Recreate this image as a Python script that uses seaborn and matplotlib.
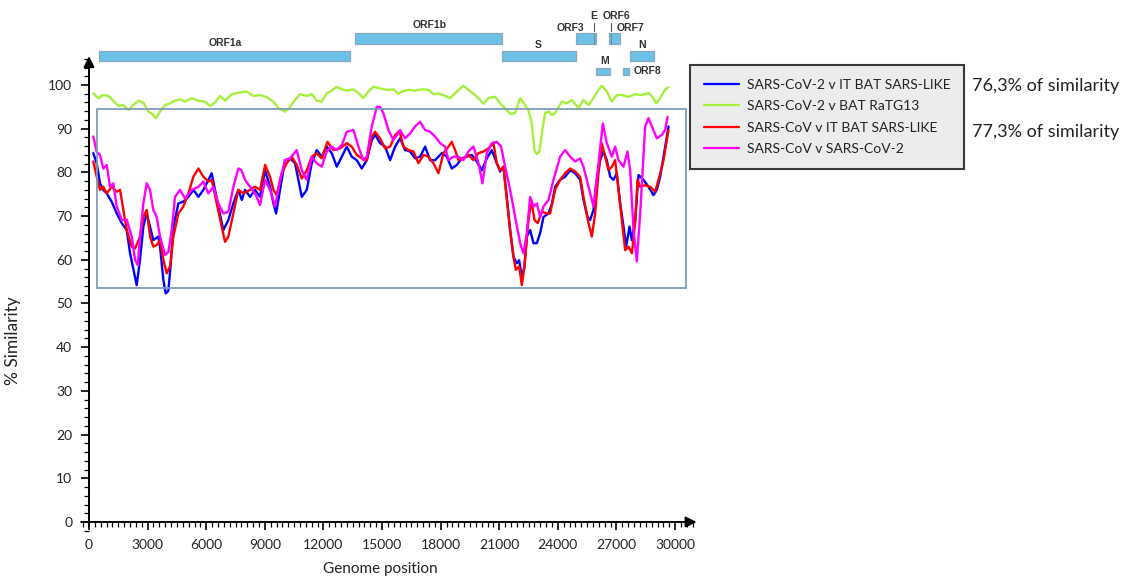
import matplotlib
matplotlib.use("Agg")
import matplotlib.pyplot as plt
from matplotlib.patches import Rectangle
from matplotlib.ticker import MultipleLocator
import seaborn as sns
import pandas as pd

# SimPlot-style similarity curves (genome position -> % similarity)
pos_blue = [220, 393, 563, 732, 906, 1160, 1418, 1674, 1930, 2100, 2355, 2440, 2611, 2780, 2954, 3123, 3292, 3550,
            3635, 3806, 3926, 4062, 4200, 4318, 4574, 4830, 5086, 5342, 5600, 5852, 6108, 6280, 6451, 6620, 6876,
            7132, 7388, 7645, 7820, 7987, 8243, 8499, 8755, 9011, 9267, 9438, 9575, 9780, 10035, 10291, 10547,
            10718, 10889, 11145, 11401, 11657, 11913, 12170, 12426, 12682, 12938, 13194, 13449, 13705, 13961,
            14217, 14473, 14645, 14899, 15156, 15412, 15668, 15923, 16179, 16435, 16691, 16947, 17203, 17459,
            17715, 18057, 18313, 18569, 18825, 19081, 19337, 19593, 19849, 20105, 20361, 20617, 20873, 21044,
            21214, 21385, 21556, 21726, 21897, 22017, 22153, 22290, 22409, 22580, 22751, 22922, 23092, 23263,
            23519, 23700, 23859, 24115, 24371, 24627, 24883, 25139, 25310, 25515, 25651, 25822, 25993, 26164,
            26334, 26505, 26676, 26846, 27017, 27188, 27359, 27495, 27666, 27785, 27956, 28127, 28383, 28639,
            28895, 29065, 29236, 29492, 29663]
sim_blue = [84.4, 82.1, 77.5, 76.0, 75.2, 73.3, 70.6, 68.4, 66.8, 61.5, 56.1, 54.2, 60.0, 67.6, 70.6, 67.6, 64.5, 65.3,
            63.0, 55.4, 52.3, 52.9, 60.0, 67.6, 72.9, 73.3, 74.4, 76.0, 74.4, 76.0, 78.3, 79.8, 76.0, 72.2, 66.8,
            69.1, 72.9, 76.0, 73.7, 76.0, 74.4, 76.0, 74.4, 80.5, 76.7, 72.9, 70.6, 76.0, 82.8, 83.2, 82.1,
            78.3, 74.4, 76.0, 82.1, 85.1, 83.6, 85.9, 84.4, 81.3, 83.6, 85.9, 83.6, 82.8, 80.9,
            82.8, 87.4, 88.6, 86.7, 85.9, 82.8, 85.9, 87.8, 85.1, 84.8, 83.2, 83.6, 85.9, 82.8,
            82.8, 84.4, 83.6, 80.9, 81.7, 83.2, 83.6, 84.0, 82.5, 80.5, 83.2, 85.1, 82.1, 80.2,
            81.3, 74.4, 66.8, 60.7, 59.2, 59.9, 56.1, 58.5, 65.3, 66.8, 63.8, 63.8, 66.1, 69.8,
            70.6, 72.9, 76.7, 78.3, 79.0, 80.5, 79.8, 78.3, 73.7, 69.8, 69.1, 71.4, 78.3, 82.8,
            84.8, 82.8, 79.0, 78.3, 79.8, 72.9, 67.6, 63.0, 67.6, 64.5, 69.1, 79.4, 78.3, 76.7,
            74.8, 76.0, 79.0, 85.9, 90.5]

pos_green = [220, 476, 732, 990, 1244, 1500, 1756, 2012, 2268, 2524, 2780, 3036, 3210, 3415, 3635, 3891, 4147, 4403,
             4659, 4915, 5258, 5600, 5939, 6195, 6451, 6707, 6963, 7306, 7645, 8074, 8413, 8755, 9098, 9436, 9692,
             10035, 10291, 10547, 10803, 11146, 11402, 11658, 11914, 12170, 12426, 12682, 12938, 13194, 13532,
             13788, 14044, 14300, 14556, 14899, 15242, 15580, 15836, 16010, 16348, 16691, 17034, 17372, 17628,
             17884, 18227, 18483, 18739, 18995, 19166, 19420, 19763, 20019, 20188, 20444, 20787, 21043, 21299,
             21555, 21811, 22067, 22323, 22493, 22666, 22800, 22922, 23055, 23178, 23347, 23552, 23690, 23859,
             24202, 24458, 24714, 25052, 25308, 25564, 25820, 26076, 26250, 26506, 26762, 27018, 27274, 27612,
             27955, 28298, 28636, 28892, 29030, 29235, 29491, 29662]
sim_green = [98.1, 97.0, 97.7, 97.5, 96.4, 95.2, 95.4, 94.3, 95.4, 96.4, 96.0, 93.9, 93.5, 92.4, 93.9, 95.4, 95.8, 96.4,
             96.7, 96.2, 97.0, 96.4, 96.2, 95.2, 96.0, 97.5, 96.4, 97.9, 98.2, 98.5, 97.5, 97.7, 97.2, 96.2, 94.7,
             93.9, 95.0, 96.6, 97.9, 97.5, 97.9, 96.4, 96.2, 98.1, 98.7, 99.6, 99.0, 98.7, 99.0,
             98.2, 97.0, 98.5, 99.6, 99.2, 98.9, 99.0, 98.0, 98.5, 98.9, 98.7, 99.0, 98.9, 97.9,
             98.1, 97.5, 97.0, 98.1, 99.2, 99.8, 98.9, 97.7, 96.6, 95.7, 97.0, 97.3, 95.8, 94.7,
             93.4, 93.6, 97.0, 95.4, 94.3, 91.2, 85.1, 84.2, 84.8, 89.0, 93.6, 93.9, 93.1, 93.6,
             96.2, 95.8, 96.6, 94.7, 96.6, 95.4, 97.0, 98.9, 99.8, 98.5, 96.2, 97.7, 97.7, 97.3,
             97.9, 97.7, 98.2, 97.0, 95.8, 97.0, 99.0, 99.5]

pos_red = [220, 393, 563, 732, 906, 1160, 1418, 1588, 1760, 1930, 2186, 2355, 2611, 2780, 2954, 3123, 3292, 3466,
           3635, 3806, 3976, 4147, 4318, 4574, 4830, 5086, 5342, 5600, 5852, 6108, 6280, 6535, 6790, 6963, 7132,
           7388, 7645, 7900, 8243, 8499, 8755, 9011, 9267, 9438, 9609, 9865, 10121, 10377, 10633, 10889, 11145,
           11401, 11657, 11913, 12204, 12511, 12852, 13194, 13449, 13705, 13961, 14217, 14473, 14645, 14899,
           15156, 15412, 15668, 15890, 16094, 16350, 16606, 16862, 17118, 17374, 17630, 17886, 18142, 18398,
           18569, 18740, 18910, 19166, 19423, 19679, 19935, 20191, 20447, 20703, 20873, 21044, 21214, 21385,
           21556, 21726, 21846, 22017, 22153, 22290, 22460, 22631, 22802, 22973, 23178, 23434, 23603, 23859,
           24115, 24371, 24627, 24883, 25139, 25310, 25566, 25737, 25907, 26078, 26249, 26420, 26590, 26761,
           26932, 27102, 27273, 27444, 27615, 27785, 27956, 28075, 28212, 28468, 28724, 28980, 29151, 29407, 29663]
sim_red = [82.5, 79.0, 76.0, 76.7, 75.2, 76.7, 75.6, 76.0, 71.4, 66.8, 63.0, 62.6, 65.3, 69.8, 71.4, 65.3, 63.0, 63.4,
           64.5, 60.0, 56.9, 58.5, 65.3, 70.6, 72.2, 75.2, 79.0, 80.9, 79.0, 77.9, 78.3, 72.9, 67.6, 64.1, 65.3,
           70.6, 76.0, 75.2, 76.0, 76.7, 76.0, 81.7, 79.0, 76.0, 74.8, 79.8, 82.1, 83.6, 81.7, 78.6, 80.5,
           83.6, 84.4, 83.2, 87.0, 85.1, 85.5, 86.7, 85.9, 84.0, 83.2, 82.8, 88.2, 89.3, 87.8,
           85.5, 85.9, 88.5, 89.5, 85.9, 85.1, 84.8, 82.1, 84.0, 83.6, 82.1, 79.8, 84.4, 85.9,
           87.0, 85.1, 82.8, 83.2, 84.0, 82.8, 84.4, 84.8, 85.5, 86.7, 82.1, 80.5, 81.3, 73.7,
           66.8, 60.7, 57.7, 58.5, 54.2, 58.5, 67.6, 73.7, 69.1, 68.4, 71.0, 70.6, 70.6, 76.0,
           78.3, 79.8, 80.9, 80.2, 79.0, 74.4, 68.4, 65.3, 70.6, 79.8, 86.7, 83.6, 80.5, 81.3,
           82.8, 76.0, 69.1, 62.2, 63.0, 61.5, 68.4, 78.3, 76.7, 77.1, 76.7, 75.6, 78.3, 82.8, 89.7]

pos_magenta = [220, 393, 563, 732, 906, 1075, 1244, 1418, 1674, 1930, 2186, 2355, 2493, 2611, 2780, 2954, 3123, 3292,
               3466, 3635, 3891, 4062, 4234, 4403, 4659, 4915, 5258, 5600, 5852, 6108, 6364, 6620, 6876, 7132, 7388,
               7645, 7800, 7987, 8243, 8499, 8755, 9011, 9267, 9523, 9780, 10035, 10291, 10633, 10889, 11145, 11401,
               11657, 11913, 12170, 12426, 12682, 12938, 13194, 13534, 13790, 14046, 14217, 14473, 14730, 14899,
               15070, 15326, 15582, 15800, 15923, 16179, 16435, 16691, 16947, 17203, 17459, 17715, 17971, 18227,
               18398, 18654, 18910, 19166, 19423, 19679, 19935, 20139, 20361, 20617, 20873, 21095, 21300, 21556,
               21812, 22068, 22238, 22409, 22580, 22751, 22922, 23092, 23263, 23519, 23775, 24115, 24371, 24627,
               24883, 25139, 25310, 25566, 25822, 26078, 26300, 26505, 26761, 26932, 27102, 27359, 27563, 27700,
               27871, 28041, 28212, 28468, 28639, 28810, 29065, 29321, 29492, 29612]
sim_magenta = [88.2, 84.7, 84.0, 80.9, 81.7, 76.7, 77.5, 72.2, 69.1, 69.2, 65.3, 60.0, 58.8, 65.3, 72.9, 77.5, 76.0, 71.4,
               69.8, 65.3, 61.1, 61.8, 66.8, 74.4, 76.0, 74.0, 76.0, 76.7, 77.9, 75.2, 76.7, 72.9, 70.6, 71.0, 76.7,
               80.9, 80.5, 78.3, 76.7, 75.2, 72.5, 78.3, 76.0, 72.2, 78.3, 82.8, 83.2, 85.1, 80.5, 78.3, 83.6,
               82.1, 81.3, 84.8, 85.9, 85.1, 86.3, 89.3, 89.7, 85.9, 82.8, 83.6, 90.5, 95.0, 95.0,
               93.5, 89.7, 87.4, 88.8, 89.7, 87.8, 88.9, 90.5, 91.6, 89.7, 89.3, 88.2, 86.7, 85.9,
               82.8, 83.6, 83.6, 82.8, 84.8, 85.9, 82.1, 77.5, 84.4, 86.7, 87.0, 85.9, 81.3, 76.0,
               69.8, 63.8, 61.5, 66.1, 74.4, 72.2, 72.9, 69.8, 72.2, 73.7, 78.3, 83.6, 85.1, 83.6,
               82.5, 83.2, 81.3, 76.7, 72.2, 82.1, 91.2, 86.7, 83.6, 85.9, 82.8, 81.3, 84.8, 80.5,
               66.8, 59.6, 70.6, 90.5, 92.4, 90.5, 87.8, 88.6, 89.7, 92.7]

series_labels = ["SARS-CoV-2 v IT BAT SARS-LIKE", "SARS-CoV-2 v BAT RaTG13",
                 "SARS-CoV v IT BAT SARS-LIKE", "SARS-CoV v SARS-CoV-2"]
series_colors = ["#0000ff", "#a4f03c", "#ff0000", "#ff00ff"]
similarity_notes = ["76,3% of similarity", "77,3% of similarity"]

# genome map (start, end, row)
orf_names = ["ORF1a", "ORF1b", "S", "ORF3", "M", "ORF6/7", "ORF8", "N"]
orf_start = [512, 13620, 21147, 24936, 25960, 26625, 27342, 27700]
orf_end = [13364, 21147, 24936, 25960, 26677, 27188, 27650, 28930]
orf_row = [1, 2, 1, 2, 0, 2, 0, 1]

sns.set_style("white")
plt.rcParams["font.family"] = ["Lato", "DejaVu Sans"]

fig = plt.figure(figsize=(11.21, 5.77), dpi=100)
ax = fig.add_axes([0.0707, 0.0802, 0.5507, 0.8255])

data_sets = [(pos_blue, sim_blue), (pos_green, sim_green), (pos_red, sim_red), (pos_magenta, sim_magenta)]
for (xs, ys), lab, col in zip(data_sets, series_labels, series_colors):
    df = pd.DataFrame({"pos": xs, "sim": ys})
    sns.lineplot(data=df, x="pos", y="sim", color=col, lw=1.7, label=lab, ax=ax)

handles, labels = ax.get_legend_handles_labels()
ax.get_legend().remove()

for s in ["top", "right", "left", "bottom"]:
    ax.spines[s].set_visible(False)
ax.spines["left"].set_position(("data", 0))
ax.spines["bottom"].set_position(("data", 0))

# axes drawn as arrows
ax.annotate("", xy=(0, 106.6), xytext=(0, -1), annotation_clip=False,
            arrowprops=dict(arrowstyle="-|>", color="black", lw=1.4, mutation_scale=16, shrinkA=0, shrinkB=0))
ax.annotate("", xy=(31100, 0), xytext=(-400, 0), annotation_clip=False,
            arrowprops=dict(arrowstyle="-|>", color="black", lw=1.4, mutation_scale=16, shrinkA=0, shrinkB=0))

ax.set_yticks(range(0, 101, 10))
ax.yaxis.set_minor_locator(MultipleLocator(2))
ax.set_xticks(range(0, 30001, 3000))
ax.xaxis.set_minor_locator(MultipleLocator(300))
ax.tick_params(axis="both", which="major", direction="out", length=6, width=1.2, labelsize=10,
               colors="black", labelcolor="#222222", pad=6)
ax.tick_params(axis="both", which="minor", direction="out", length=3.5, width=0.9, colors="black")
ax.tick_params(left=True, bottom=True, which="both")
ax.set_xlim(-500, 31100)
ax.set_ylim(-2, 107)

ax.set_xlabel("Genome position", fontsize=11, color="#222222")
ax.set_ylabel("% Similarity", fontsize=12.5, color="#222222")
ax.xaxis.set_label_coords(0.487, -0.065)
ax.yaxis.set_label_coords(-0.094, 0.40)

# highlighted region
ax.add_patch(Rectangle((410, 53.6), 30570 - 410, 94.5 - 53.6, fill=False,
                       edgecolor="#7d9cbc", lw=1.3, zorder=5))

# genome map above the plot
row_y = {0: (102.3, 1.6), 1: (105.5, 2.3), 2: (109.4, 2.5)}
for name, a, b, r in zip(orf_names, orf_start, orf_end, orf_row):
    y0, h = row_y[r]
    ax.add_patch(Rectangle((a, y0), b - a, h, facecolor="#6ec1e6", edgecolor="#8aa9bd",
                           lw=0.9, clip_on=False, zorder=6))
# E and ORF6 separators
for xl in [25858, 26728]:
    ax.plot([xl, xl], [109.4, 111.9], color="#6f8ea0", lw=0.8, clip_on=False, zorder=7)
    ax.plot([xl, xl], [112.3, 114.3], color="#555555", lw=0.8, clip_on=False, zorder=7)

lab_kw = dict(fontsize=7.5, fontweight="bold", color="#333333", family=["Liberation Sans", "DejaVu Sans"],
              clip_on=False, va="center")
ax.text(6963, 109.6, "ORF1a", ha="center", **lab_kw)
ax.text(17459, 113.7, "ORF1b", ha="center", **lab_kw)
ax.text(22990, 109.2, "S", ha="center", **lab_kw)
ax.text(24627, 113.0, "ORF3", ha="center", **lab_kw)
ax.text(25858, 115.8, "E", ha="center", **lab_kw)
ax.text(26980, 115.8, "ORF6", ha="center", **lab_kw)
ax.text(27725, 113.0, "ORF7", ha="center", **lab_kw)
ax.text(28314, 109.2, "N", ha="center", **lab_kw)
ax.text(26368, 105.5, "M", ha="center", **lab_kw)
ax.text(27853, 103.1, "ORF8", ha="left", **lab_kw)

leg = fig.legend(handles, labels, loc="upper left", bbox_to_anchor=(690 / 1121, 1 - 65 / 577),
                 bbox_transform=fig.transFigure, borderaxespad=0, fontsize=10, frameon=True,
                 fancybox=False, framealpha=1, borderpad=1.0, labelspacing=0.68,
                 handlelength=2.5, handletextpad=0.6)
leg.get_frame().set_facecolor("#ececec")
leg.get_frame().set_edgecolor("#3a3a3a")
leg.get_frame().set_linewidth(1.5)
for ln in leg.get_lines():
    ln.set_linewidth(1.6)
for t in leg.get_texts():
    t.set_color("#222222")

fig.text(972 / 1121, 1 - 86 / 577, similarity_notes[0], fontsize=13, va="center", ha="left", color="#222222")
fig.text(972 / 1121, 1 - 132 / 577, similarity_notes[1], fontsize=13, va="center", ha="left", color="#222222")

fig.savefig("out.png", dpi=100)
